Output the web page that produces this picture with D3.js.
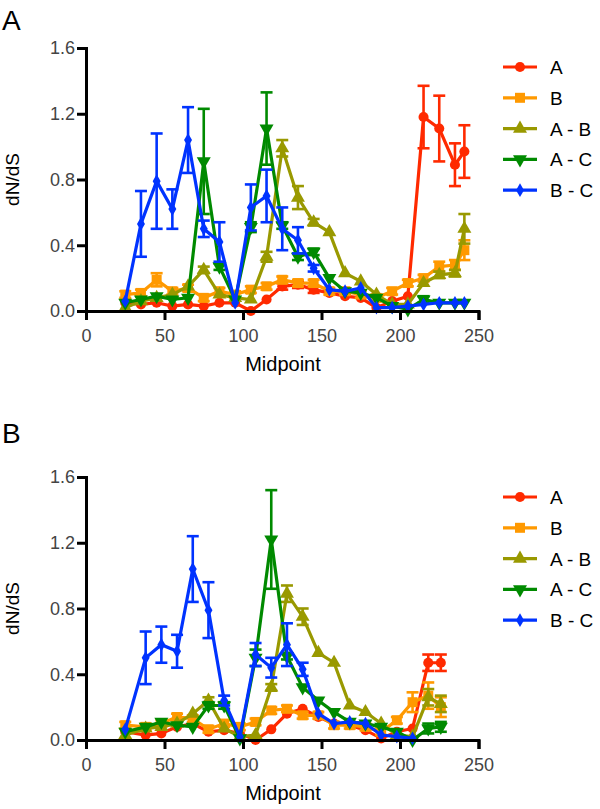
<!DOCTYPE html>
<html><head><meta charset="utf-8">
<script src="https://cdn.jsdelivr.net/npm/d3@7"></script>
<style>body{margin:0;background:#fff}svg{display:block}text{font-family:"Liberation Sans",Arial,Helvetica,sans-serif}</style>
</head><body><div id="chart"></div>
<script>
// ---------- DATA ----------
const seriesNames = ["A", "B", "A - B", "A - C", "B - C"];
const seriesColors = ["#ff2a00", "#ff9900", "#999900", "#008a00", "#0033ff"];
const yTicks = [0.0, 0.4, 0.8, 1.2, 1.6];
const xTicks = [0, 50, 100, 150, 200, 250];

// Panel A
const midA = [25,35,45,55,65,75,85,95,105,115,125,135,145,155,165,175,185,195,205,215,225,235,241];
const aA  = [0.05,0.04,0.05,0.03,0.04,0.03,0.05,0.05,0.00,0.07,0.15,0.16,0.13,0.11,0.09,0.08,0.02,0.06,0.09,1.18,1.11,0.89,0.97];
const bA  = [0.10,0.11,0.19,0.12,0.14,0.08,0.12,0.10,0.13,0.15,0.19,0.17,0.17,0.12,0.12,0.10,0.08,0.12,0.17,0.20,0.27,0.28,0.37];
const abA = [0.02,0.06,0.08,0.10,0.15,0.25,0.10,0.08,0.07,0.33,0.99,0.69,0.54,0.48,0.23,0.18,0.10,0.04,0.04,0.17,0.22,0.23,0.50];
const acA = [0.05,0.07,0.09,0.07,0.08,0.91,0.27,0.07,0.51,1.11,0.52,0.33,0.36,0.20,0.12,0.11,0.08,0.03,0.01,0.07,0.05,0.05,0.05];
const bcA = [0.06,0.53,0.79,0.62,1.04,0.50,0.42,0.05,0.63,0.70,0.50,0.43,0.26,0.13,0.12,0.14,0.02,0.02,0.03,0.04,0.05,0.05,0.05];
const aAerr  = [0,0,0,0,0,0,0,0,0,0,0.02,0.02,0.02,0,0,0,0,0,0,0.19,0.20,0.13,0.16];
const bAerr  = [0.02,0.02,0.04,0.02,0.02,0.02,0.02,0.02,0.02,0.02,0.02,0.02,0.02,0.02,0.02,0.02,0.02,0.02,0.02,0.02,0.03,0.03,0.06];
const abAerr = [0,0,0,0,0,0.02,0,0,0,0.03,0.05,0.07,0.02,0,0,0,0,0,0,0,0.02,0.02,0.09];
const acAerr = [0,0,0,0,0,0.32,0.02,0,0.03,0.22,0.02,0.02,0.02,0,0,0,0,0,0,0.02,0,0,0];
const bcAerr = [0,0.20,0.29,0.12,0.20,0.05,0.12,0,0.14,0.16,0.13,0.08,0.02,0,0,0,0,0,0,0,0,0,0];

// Panel B
const midB = [25,38,48,58,68,78,88,98,108,118,128,138,148,158,168,178,188,198,208,218,226];
const aB  = [0.05,0.03,0.04,0.08,0.10,0.05,0.06,0.04,0.00,0.065,0.16,0.19,0.14,0.10,0.09,0.06,0.01,0.05,0.07,0.47,0.47];
const bB  = [0.09,0.08,0.10,0.14,0.13,0.065,0.10,0.08,0.11,0.18,0.19,0.15,0.15,0.09,0.09,0.08,0.05,0.12,0.23,0.27,0.20];
const abB = [0.03,0.07,0.08,0.10,0.16,0.24,0.07,0.02,0.03,0.32,0.89,0.75,0.53,0.47,0.21,0.17,0.10,0.03,0.02,0.26,0.22];
const acB = [0.05,0.08,0.11,0.09,0.08,0.21,0.21,0.01,0.50,1.22,0.51,0.32,0.24,0.17,0.11,0.10,0.08,0.05,0.00,0.07,0.08];
const bcB = [0.065,0.50,0.58,0.54,1.04,0.79,0.24,0.02,0.52,0.44,0.58,0.43,0.16,0.10,0.11,0.10,0.03,0.02,0.01];
const aBerr  = [0,0,0,0,0,0,0,0,0,0,0,0,0,0,0,0,0,0,0,0.05,0.05];
const bBerr  = [0.02,0.02,0.02,0.02,0.02,0.02,0.02,0.02,0.02,0.02,0.02,0.02,0.02,0.02,0.02,0.02,0.02,0.02,0.06,0.08,0.06];
const abBerr = [0,0,0,0,0,0.02,0,0,0,0.02,0.05,0.05,0,0,0,0,0,0,0,0.05,0.05];
const acBerr = [0,0,0,0,0,0.02,0.02,0,0.05,0.30,0.02,0,0,0,0,0,0,0,0,0.03,0.03];
const bcBerr = [0,0.16,0.11,0.10,0.20,0.17,0.03,0,0.07,0.06,0.13,0.04,0,0,0,0,0,0,0];

// ---------- DRAW ----------
const W = 600, H = 809;
const svg = d3.select("#chart").append("svg").attr("width", W).attr("height", H);

const symbols = [
  d3.symbol().type(d3.symbolCircle).size(80),
  d3.symbol().type(d3.symbolSquare).size(100),
  d3.symbol().type(d3.symbolTriangle).size(85),
  d3.symbol().type(d3.symbolTriangle).size(85),
  d3.symbol().type(d3.symbolDiamond).size(55)
];
const rotations = [0, 0, 0, 180, 0];

const panels = [
  {letter: "A", top: 48, bottom: 311, letterY: 30, legendY: 67, mids: midA,
   vals: [aA, bA, abA, acA, bcA], errs: [aAerr, bAerr, abAerr, acAerr, bcAerr]},
  {letter: "B", top: 477, bottom: 740, letterY: 443, legendY: 497, mids: midB,
   vals: [aB, bB, abB, acB, bcB], errs: [aBerr, bBerr, abBerr, acBerr, bcBerr]}
];

panels.forEach(p => {
  const g = svg.append("g");
  const x = d3.scaleLinear().domain([0, 250]).range([86, 478.5]);
  const y = d3.scaleLinear().domain([0, 1.6]).range([p.bottom, p.top]);

  // series
  p.vals.forEach((vals, si) => {
    const col = seriesColors[si];
    const pts = vals.map((v, i) => ({x: p.mids[i], y: v, e: p.errs[si][i]}));
    const sg = g.append("g");
    // error bars
    pts.filter(d => d.e > 0).forEach(d => {
      const cx = x(d.x);
      sg.append("line").attr("x1", cx).attr("x2", cx).attr("y1", y(d.y + d.e)).attr("y2", y(d.y - d.e))
        .attr("stroke", col).attr("stroke-width", 2.6);
      [d.y + d.e, d.y - d.e].forEach(v => {
        sg.append("line").attr("x1", cx - 6).attr("x2", cx + 6).attr("y1", y(v)).attr("y2", y(v))
          .attr("stroke", col).attr("stroke-width", 2.6);
      });
    });
    sg.append("path").datum(pts)
      .attr("d", d3.line().x(d => x(d.x)).y(d => y(d.y)))
      .attr("fill", "none").attr("stroke", col).attr("stroke-width", 3.2).attr("stroke-linejoin", "miter");
    sg.selectAll("path.m").data(pts).enter().append("path").attr("class", "m")
      .attr("d", symbols[si])
      .attr("transform", d => `translate(${x(d.x)},${y(d.y)}) rotate(${rotations[si]})`)
      .attr("fill", col);
  });

  // axes
  const yAxis = g.append("g").attr("transform", "translate(86,0)")
    .call(d3.axisLeft(y).tickValues(yTicks).tickFormat(d3.format(".1f")).tickSizeOuter(0).tickSize(9).tickPadding(2));
  const xAxis = g.append("g").attr("transform", `translate(0,${p.bottom})`)
    .call(d3.axisBottom(x).tickValues(xTicks).tickSizeOuter(0).tickSize(9).tickPadding(9));
  [yAxis, xAxis].forEach(a => {
    a.select(".domain").attr("stroke", "#000").attr("stroke-width", 3);
    a.selectAll(".tick line").attr("stroke", "#000").attr("stroke-width", 3);
    a.selectAll(".tick text").attr("fill", "#444").attr("font-size", 18)
      .attr("font-family", "'Liberation Sans', Arial, sans-serif");
  });

  // titles
  g.append("text").attr("x", 2).attr("y", p.letterY).attr("font-size", 28).attr("fill", "#000").text(p.letter);
  g.append("text").attr("transform", `translate(19,${(p.top + p.bottom) / 2}) rotate(-90)`)
    .attr("text-anchor", "middle").attr("font-size", 19).attr("fill", "#000").text("dN/dS");
  g.append("text").attr("x", 283).attr("y", p.bottom + 60).attr("text-anchor", "middle")
    .attr("font-size", 20).attr("fill", "#000").text("Midpoint");

  // legend
  seriesNames.forEach((name, si) => {
    const ly = p.legendY + si * 30.8;
    const lg = g.append("g");
    lg.append("line").attr("x1", 503).attr("x2", 537).attr("y1", ly).attr("y2", ly)
      .attr("stroke", seriesColors[si]).attr("stroke-width", 3.2);
    lg.append("path").attr("d", symbols[si])
      .attr("transform", `translate(520,${ly}) rotate(${rotations[si]})`).attr("fill", seriesColors[si]);
    lg.append("text").attr("x", 550).attr("y", ly + 7).attr("font-size", 19).attr("fill", "#000").text(name);
  });
});
</script></body></html>
